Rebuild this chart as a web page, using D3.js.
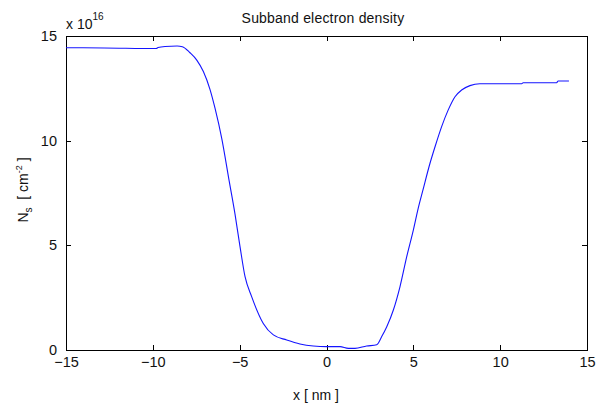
<!DOCTYPE html>
<html>
<head>
<meta charset="utf-8">
<script src="https://cdn.jsdelivr.net/npm/d3@7"></script>
<style>
  html, body { margin: 0; padding: 0; background: #fff; }
  svg { display: block; }
  text { font-family: "Liberation Sans", Arial, sans-serif; fill: #111; }
</style>
</head>
<body>
<svg id="chart" width="601" height="405"></svg>
<script>
// Data (x in nm, Ns in units of 1e16 cm^-2)
const xValues = [-15, -12.8, -9.8, -9.7, -9.3, -8.6, -8.3, -7.86, -7.47, -7.09, -6.71, -6.42, -6.03, -5.61,
  -5.27, -4.98, -4.69, -4.31, -3.64, -3.06, -2.29, -1.53, -0.76, 0.01, 0.78, 1.26, 1.64, 2.31, 2.89,
  3.18, 3.47, 3.85, 4.23, 4.62, 5.00, 5.28, 5.54, 5.96, 6.25, 6.63, 7.01, 7.40, 7.78, 8.26, 8.83,
  11.24, 11.33, 13.25, 13.34, 13.96];
const nsValues = [14.44, 14.43, 14.40, 14.45, 14.50, 14.52, 14.49, 14.2, 13.85, 13.3, 12.45, 11.55, 10.1, 8.1,
  6.5, 4.94, 3.50, 2.55, 1.27, 0.72, 0.48, 0.29, 0.19, 0.16, 0.16, 0.08, 0.08, 0.19, 0.25,
  0.64, 1.11, 1.91, 3.02, 4.46, 5.73, 6.77, 7.6, 8.92, 9.71, 10.67, 11.47, 12.10, 12.42, 12.63, 12.72,
  12.72, 12.77, 12.77, 12.85, 12.85];
const xTicks = [-15, -10, -5, 0, 5, 10, 15];
const yTicks = [0, 5, 10, 15];
const titleText = "Subband electron density";
const xLabelText = "x [ nm ]";

const svg = d3.select("#chart");
const L = 66, R = 587, T = 36, B = 350;
const x = d3.scaleLinear().domain([-15, 15]).range([L, R]);
const y = d3.scaleLinear().domain([0, 15]).range([B, T]);
const tickLen = 5;
const FONT = '"Liberation Sans", Arial, sans-serif';

// axes box
svg.append("rect").attr("x", L).attr("y", T).attr("width", R - L).attr("height", B - T)
  .attr("fill", "none").attr("stroke", "#000").attr("stroke-width", 1).attr("shape-rendering", "crispEdges");

const xb = svg.append("g").attr("transform", `translate(0,${B})`)
  .call(d3.axisBottom(x).tickValues(xTicks).tickSizeInner(-tickLen).tickSizeOuter(0).tickPadding(10).tickFormat(d3.format("d")));
const xt = svg.append("g").attr("transform", `translate(0,${T})`)
  .call(d3.axisTop(x).tickValues(xTicks).tickSizeInner(-tickLen).tickSizeOuter(0).tickFormat(""));
const yl = svg.append("g").attr("transform", `translate(${L},0)`)
  .call(d3.axisLeft(y).tickValues(yTicks).tickSizeInner(-tickLen).tickSizeOuter(0).tickPadding(9).tickFormat(d3.format("d")));
const yr = svg.append("g").attr("transform", `translate(${R},0)`)
  .call(d3.axisRight(y).tickValues(yTicks).tickSizeInner(-tickLen).tickSizeOuter(0).tickFormat(""));

[xb, xt, yl, yr].forEach(g => {
  g.select(".domain").remove();
  g.selectAll(".tick line").attr("stroke", "#000").attr("shape-rendering", "crispEdges");
  g.selectAll("text").style("font-family", FONT).style("font-size", "14.5px").attr("fill", "#111");
});
xb.selectAll("text").attr("dy", "0.71em").attr("y", 7);

// line
svg.append("path")
  .datum(xValues.map((d, i) => [d, nsValues[i]]))
  .attr("fill", "none").attr("stroke", "#1414ff").attr("stroke-width", 1.1)
  .attr("d", d3.line().curve(d3.curveMonotoneX).x(d => x(d[0])).y(d => y(d[1])));

// title
svg.append("text").attr("x", 323).attr("y", 23).attr("text-anchor", "middle")
  .style("font-size", "14px").style("letter-spacing", "0.2px").text(titleText);

// exponent
const ex = svg.append("text").attr("x", 66).attr("y", 29).style("font-size", "14px");
ex.append("tspan").text("x 10");
ex.append("tspan").attr("dy", -9).style("font-size", "10px").text("16");

// x label
svg.append("text").attr("x", 316).attr("y", 400).attr("text-anchor", "middle")
  .style("font-size", "14px").attr("xml:space", "preserve").text(xLabelText);

// y label
const yLab = svg.append("text").attr("transform", `translate(28,190) rotate(-90)`)
  .attr("text-anchor", "middle").style("font-size", "14px").attr("xml:space", "preserve");
yLab.append("tspan").text("N");
yLab.append("tspan").attr("dy", 4).style("font-size", "10px").text("s");
yLab.append("tspan").attr("dy", -4).text("  [ cm");
yLab.append("tspan").attr("dy", -6).style("font-size", "9px").text("-2");
yLab.append("tspan").attr("dy", 6).text(" ]");
</script>
</body>
</html>
